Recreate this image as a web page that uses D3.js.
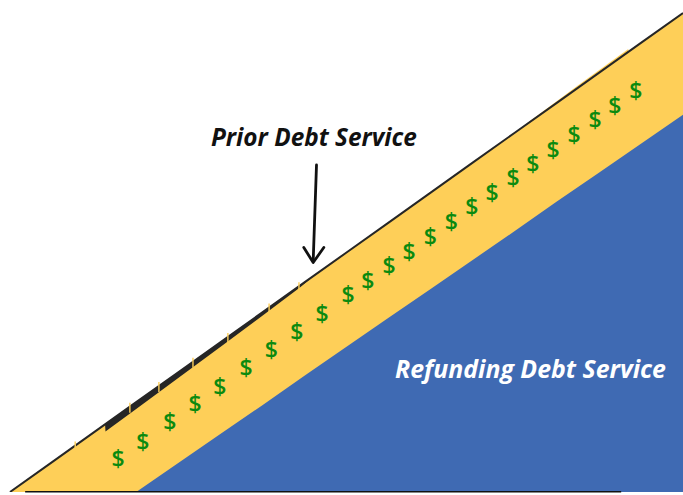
<!DOCTYPE html>
<html>
<head>
<meta charset="utf-8">
<script src="https://cdn.jsdelivr.net/npm/d3@7"></script>
<style>
  body { margin: 0; background: #fff; }
  svg { display: block; }
</style>
</head>
<body>
<div id="chart"></div>
<script>
// debt service per period (arbitrary units)
var periods = [0, 1, 2, 3, 4, 5, 6, 7, 8, 9, 10, 11, 12, 13, 14, 15, 16];
var priorDebt = [0, 6, 12, 18, 24, 30, 36, 42, 48, 54, 60, 66, 72, 78, 84, 90, 96];

var refundPeriods = [3, 4, 5, 6, 7, 8, 9, 10, 11, 12, 13, 14, 15, 16];
var refundingDebt = [0, 5.8, 11.6, 17.4, 23.3, 29.1, 34.9, 40.7, 46.5, 52.3, 58.2, 64.0, 69.8, 75.6];

// the heavier stretch of the prior line (gap between bars and line)
var gapPeriods = [2.26, 2.27, 3, 4, 5, 6, 6.9, 7.2];
var gapValues = [0, 1.5, 1.35, 1.15, 0.95, 0.7, 0.35, 0];

// bar edges poking through the line, and where bars overshoot it
var barEdges = [1.55, 2.85, 3.54, 4.35, 5.18, 6.16, 6.87];
var overPeriods = [12.3, 13.5, 14.7];
var overValues = [0.15, 0.45, 0.6];

var dollarPeriods = [2.57, 3.16, 3.80, 4.40, 4.99, 5.61, 6.21, 6.82, 7.42, 8.04,
                     8.51, 9.01, 9.49, 9.99, 10.49, 10.98, 11.46, 11.96, 12.43,
                     12.91, 13.41, 13.91, 14.38, 14.88];
var dollarDrop = 8.8;

var axisExtent = [0.36, 14.53];

var width = 683,
    height = 495;

var yellow = '#fecf58',
    blue = '#3f6ab3',
    green = '#0b8a0f';

var svg = d3.select('#chart').append('svg')
    .attr('width', width)
    .attr('height', height);

var x = d3.scaleLinear().domain([0, 16]).range([10, 683]);
var y = d3.scaleLinear().domain([0, 96]).range([492, 13]);
var priorAt = d3.scaleLinear().domain(periods).range(priorDebt);

svg.append('clipPath').attr('id', 'plot')
    .append('rect').attr('x', 0).attr('y', 0).attr('width', width).attr('height', 492);

var plot = svg.append('g').attr('clip-path', 'url(#plot)');

// yellow: prior debt service
plot.append('path')
    .datum(periods)
    .attr('fill', yellow)
    .attr('d', d3.area()
        .x(function(d) { return x(d); })
        .y0(y(0))
        .y1(function(d, i) { return y(priorDebt[i]); }));

// bars overshooting the line near the top
plot.append('path')
    .datum(overPeriods)
    .attr('fill', yellow)
    .attr('d', d3.area()
        .x(function(d) { return x(d); })
        .y0(function(d) { return y(priorAt(d)); })
        .y1(function(d, i) { return y(priorAt(d) + overValues[i]); }));

// blue: refunding debt service
plot.append('path')
    .datum(refundPeriods)
    .attr('fill', blue)
    .attr('d', d3.area()
        .x(function(d) { return x(d); })
        .y0(y(0))
        .y1(function(d, i) { return y(refundingDebt[i]); }));

// thicker part of the prior line
plot.append('path')
    .datum(gapPeriods)
    .attr('fill', '#262626')
    .attr('d', d3.area()
        .x(function(d) { return x(d); })
        .y0(function(d) { return y(priorAt(d)); })
        .y1(function(d, i) { return y(priorAt(d) - gapValues[i]); }));

// prior debt service line
plot.append('path')
    .datum(periods)
    .attr('fill', 'none')
    .attr('stroke', '#262626')
    .attr('stroke-width', 2)
    .attr('d', d3.line()
        .x(function(d) { return x(d); })
        .y(function(d, i) { return y(priorDebt[i]); }));

plot.selectAll('line.edge')
    .data(barEdges)
    .enter()
    .append('line')
    .attr('class', 'edge')
    .attr('x1', function(d) { return x(d); })
    .attr('x2', function(d) { return x(d); })
    .attr('y1', function(d) { return y(priorAt(d)) - 4; })
    .attr('y2', function(d) { return y(priorAt(d)) + 6; })
    .attr('stroke', yellow)
    .attr('stroke-width', 1.4);

// dollar signs along the band
plot.selectAll('text.dollar')
    .data(dollarPeriods)
    .enter()
    .append('text')
    .attr('class', 'dollar')
    .attr('x', function(d) { return x(d); })
    .attr('y', function(d) { return y(priorAt(d) - dollarDrop); })
    .attr('dy', '0.36em')
    .attr('text-anchor', 'middle')
    .attr('font-family', 'Open Sans')
    .attr('font-weight', 600)
    .attr('font-size', 23)
    .attr('fill', green)
    .text('$');

// baseline
svg.append('line')
    .attr('x1', x(axisExtent[0]))
    .attr('x2', x(axisExtent[1]))
    .attr('y1', y(0) - 0.3)
    .attr('y2', y(0) - 0.3)
    .attr('stroke', '#111')
    .attr('stroke-width', 1.6);

// labels, sized to the width they take in the picture
function label(txt, left, right, base, color) {
    var t = svg.append('text')
        .attr('x', left)
        .attr('y', base)
        .attr('font-family', 'Open Sans')
        .attr('font-weight', 'bold')
        .attr('font-style', 'italic')
        .attr('font-size', 22)
        .attr('fill', color)
        .text(txt);
    var w = t.node().getComputedTextLength();
    t.attr('font-size', 22 * (right - left) / w);
}
label('Prior Debt Service', 211, 417, 146, '#111');
label('Refunding Debt Service', 395, 666, 378, '#fff');

// arrow to the prior line
var arrow = svg.append('g')
    .attr('fill', 'none')
    .attr('stroke', '#111')
    .attr('stroke-width', 2.8)
    .attr('stroke-linecap', 'round')
    .attr('stroke-linejoin', 'round');
arrow.append('path').attr('d', 'M316.5,165 L313.2,261');
arrow.append('path').attr('d', 'M303.8,247.5 L313.2,262.5 L323.8,247.5');
</script>
</body>
</html>
